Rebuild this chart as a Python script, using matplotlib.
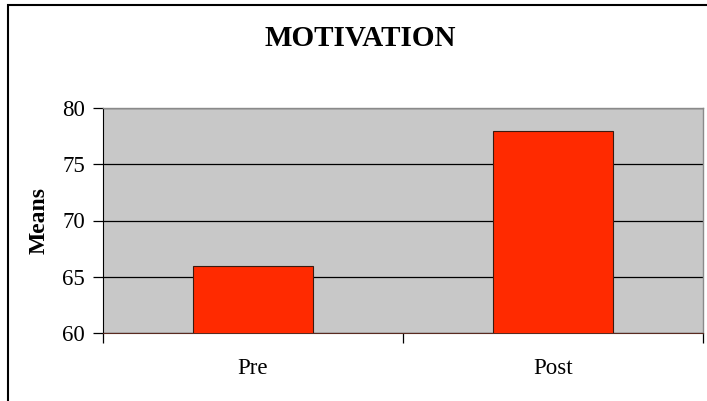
import matplotlib
matplotlib.use("Agg")
import matplotlib.pyplot as plt
from matplotlib.patches import Rectangle

categories = ["Pre", "Post"]
means = [66, 78]
yticks = [60, 65, 70, 75, 80]

plt.rcParams['font.family'] = ['Liberation Serif', 'DejaVu Serif']

W, H = 707, 401
fig = plt.figure(figsize=(W/100, H/100), dpi=100)

# figure border (left and top visible)
fig.add_artist(Rectangle((7.5/W, -0.1), 1.2, 1.1 - 4.5/H, transform=fig.transFigure,
                         fill=False, edgecolor='black', linewidth=1.5))

ax = fig.add_axes([103/W, 1-333/H, 600/W, 225/H])
ax.set_facecolor('#C8C8C8')
x = list(range(len(categories)))
ax.bar(x, means, width=0.4, bottom=0, color='#FF2A00', edgecolor='#3a1a10', linewidth=0.8, zorder=3)
ax.set_xlim(-0.5, 1.5)
ax.set_ylim(60, 80)
ax.set_yticks(yticks)
ax.set_yticklabels([str(v) for v in yticks], fontsize=16.5)
ax.yaxis.grid(True, color='black', linewidth=0.9, zorder=1)
ax.set_axisbelow(True)
ax.set_xticks([-0.5, 0.5, 1.5], minor=False)
ax.set_xticklabels(["", "", ""])
ax.set_xticks(x, minor=True)
ax.set_xticklabels(categories, minor=True, fontsize=16.5)
ax.tick_params(axis='x', which='major', length=7, width=0.9, direction='out', color='black')
ax.tick_params(axis='x', which='minor', length=0, pad=18)
ax.tick_params(axis='y', length=7, width=0.9, direction='out', pad=6)
for s in ['top', 'right']:
    ax.spines[s].set_color('#8a8a8a')
    ax.spines[s].set_linewidth(1.0)
ax.spines['left'].set_color('black')
ax.spines['bottom'].set_color('#5a2a20')
ax.set_ylabel("Means", fontsize=17, fontweight='bold')
ax.yaxis.set_label_coords((50-103)/600, 0.5)

fig.text(360.5/W, 1-38/H, "MOTIVATION", ha='center', va='center', fontsize=21, fontweight='bold')

fig.savefig("out.png", dpi=100)
